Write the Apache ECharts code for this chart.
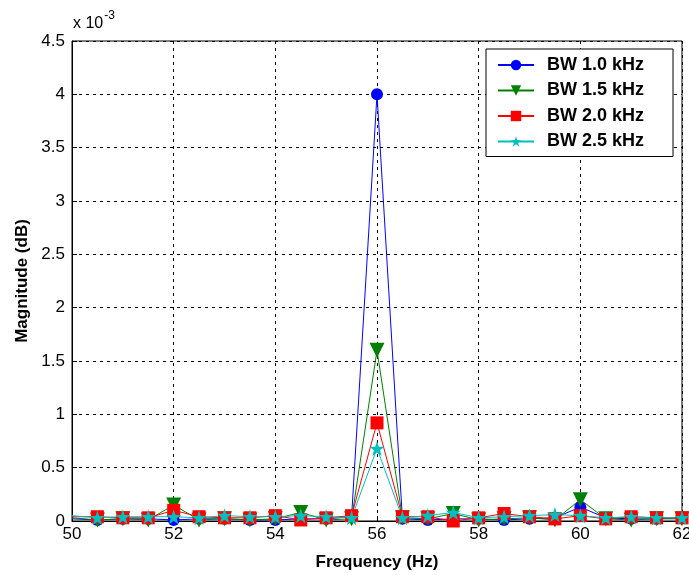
<!DOCTYPE html>
<html>
<head>
<meta charset="utf-8">
<script src="https://cdn.jsdelivr.net/npm/echarts@6/dist/echarts.min.js"></script>
<style>
  html, body { margin: 0; padding: 0; background: #fff; }
  #chart { width: 689px; height: 575px; }
</style>
</head>
<body>
<div id="chart"></div>
<script>
// frequency samples (Hz)
const freqs = [50, 50.5, 51, 51.5, 52, 52.5, 53, 53.5, 54, 54.5, 55, 55.5, 56,
  56.5, 57, 57.5, 58, 58.5, 59, 59.5, 60, 60.5, 61, 61.5, 62];

// magnitudes in units of 1e-3
const bw10 = [0.02, 0.01, 0.02, 0.02, 0.01, 0.02, 0.02, 0.01, 0.01, 0.02, 0.02, 0.04, 4.0,
  0.02, 0.01, 0.02, 0.02, 0.01, 0.02, 0.03, 0.13, 0.03, 0.02, 0.02, 0.03];
const bw15 = [0.03, 0.01, 0.02, 0.01, 0.15, 0.01, 0.02, 0.01, 0.02, 0.08, 0.01, 0.02, 1.6,
  0.03, 0.02, 0.07, 0.01, 0.02, 0.03, 0.01, 0.2, 0.02, 0.01, 0.02, 0.02];
const bw20 = [0.04, 0.04, 0.03, 0.03, 0.1, 0.04, 0.03, 0.03, 0.05, 0.01, 0.03, 0.05, 0.92,
  0.04, 0.04, 0.0, 0.03, 0.07, 0.04, 0.02, 0.05, 0.02, 0.04, 0.03, 0.03];
const bw25 = [0.05, 0.03, 0.04, 0.04, 0.04, 0.03, 0.05, 0.04, 0.04, 0.05, 0.04, 0.03, 0.68,
  0.03, 0.05, 0.08, 0.03, 0.04, 0.05, 0.06, 0.05, 0.03, 0.04, 0.03, 0.03];

const seriesNames = ['BW 1.0 kHz', 'BW 1.5 kHz', 'BW 2.0 kHz', 'BW 2.5 kHz'];
const seriesColors = ['#0000ff', '#008000', '#ff0000', '#00bfbf'];

const triDown = 'path://M0,0L10,0L5,9Z';
const star = 'path://M5,0L6.2,3.6L10,3.6L7,5.9L8.1,9.5L5,7.3L1.9,9.5L3,5.9L0,3.6L3.8,3.6Z';

// first sample sits on the left axis, no marker drawn there in the original
const pairs = (ys) => freqs.map((f, i) => i === 0
  ? { value: [f, ys[i]], symbol: 'none' }
  : [f, ys[i]]);

const chart = echarts.init(document.getElementById('chart'));
const font = '"Liberation Sans", Arial, sans-serif';

const makeSeries = (name, ys, color, symbol, size) => ({
  name: name,
  type: 'line',
  data: pairs(ys),
  symbol: symbol,
  symbolSize: size,
  showAllSymbol: true,
  lineStyle: { color: color, width: 1 },
  itemStyle: { color: color },
  emphasis: { disabled: true },
  animation: false
});

const gridLine = { show: true, lineStyle: { color: '#000', type: [3, 4], width: 1 } };

chart.setOption({
  textStyle: { fontFamily: font },
  grid: {
    left: 72, right: 7, top: 41, bottom: 54,
    outerBoundsMode: 'none',
    show: true, borderColor: '#000', borderWidth: 1, backgroundColor: '#fff'
  },
  legend: {
    left: 486, top: 49, orient: 'vertical',
    backgroundColor: '#fff', borderColor: '#000', borderWidth: 1,
    padding: [7, 29, 6, 11], itemGap: 7.5, itemWidth: 36, itemHeight: 13,
    textStyle: { fontFamily: font, fontWeight: 'bold', fontSize: 18, color: '#000', padding: [0, 0, 0, 8] },
    data: seriesNames
  },
  xAxis: {
    type: 'value', min: 50, max: 62, interval: 2,
    name: 'Frequency (Hz)', nameLocation: 'middle', nameGap: 33,
    nameTextStyle: { fontFamily: font, fontWeight: 'bold', fontSize: 17, color: '#000' },
    axisLine: { show: true, lineStyle: { color: '#000' } },
    axisTick: { show: true, inside: true, length: 5, lineStyle: { color: '#000' } },
    axisLabel: { fontFamily: font, fontSize: 17, color: '#000', margin: 5 },
    splitLine: gridLine
  },
  yAxis: {
    type: 'value', min: 0, max: 4.5, interval: 0.5,
    name: 'Magnitude (dB)', nameLocation: 'middle', nameGap: 37,
    nameTextStyle: { fontFamily: font, fontWeight: 'bold', fontSize: 17, color: '#000' },
    axisLine: { show: true, lineStyle: { color: '#000' } },
    axisTick: { show: true, inside: true, length: 5, lineStyle: { color: '#000' } },
    axisLabel: { fontFamily: font, fontSize: 17, color: '#000', margin: 7 },
    splitLine: gridLine
  },
  graphic: [{
    type: 'text', left: 73, top: 10,
    style: {
      text: '{a|x 10}{b|-3}',
      rich: {
        a: { fontFamily: font, fontSize: 16, fill: '#000', verticalAlign: 'bottom' },
        b: { fontFamily: font, fontSize: 12, fill: '#000', verticalAlign: 'top', padding: [0, 0, 10, 1] }
      }
    }
  }],
  series: [
    makeSeries(seriesNames[0], bw10, seriesColors[0], 'circle', 12),
    makeSeries(seriesNames[1], bw15, seriesColors[1], triDown, 15),
    makeSeries(seriesNames[2], bw20, seriesColors[2], 'rect', 13),
    makeSeries(seriesNames[3], bw25, seriesColors[3], star, 15)
  ]
});
</script>
</body>
</html>
